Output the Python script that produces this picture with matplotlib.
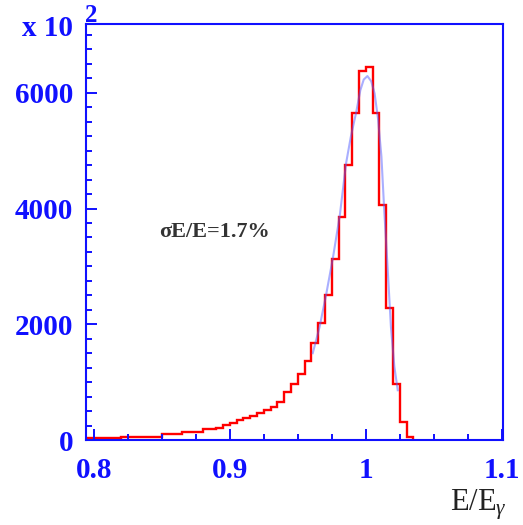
import matplotlib
matplotlib.use("Agg")
import matplotlib.pyplot as plt
from matplotlib.ticker import MultipleLocator, FixedLocator

# E/E_gamma histogram, 0.005 wide bins, contents in units of 10^2
bin_edges = [0.790, 0.795, 0.800, 0.805, 0.810, 0.815, 0.820, 0.825, 0.830, 0.835,
             0.840, 0.845, 0.850, 0.855, 0.860, 0.865, 0.870, 0.875, 0.880, 0.885,
             0.890, 0.895, 0.900, 0.905, 0.910, 0.915, 0.920, 0.925, 0.930, 0.935,
             0.940, 0.945, 0.950, 0.955, 0.960, 0.965, 0.970, 0.975, 0.980, 0.985,
             0.990, 0.995, 1.000, 1.005, 1.010, 1.015, 1.020, 1.025, 1.030, 1.035]
counts = [29, 29, 29, 29, 29, 29, 59, 59, 59, 59,
          59, 59, 100, 100, 100, 135, 135, 135, 187, 187,
          214, 261, 295, 340, 375, 415, 461, 518, 565, 665,
          830, 970, 1141, 1370, 1682, 2028, 2504, 3126, 3857, 4750,
          5653, 6373, 6450, 5653, 4059, 2274, 969, 306, 60]

# fitted curve, points
fit_x = [0.961, 0.966, 0.971, 0.976, 0.981, 0.9855, 0.989, 0.993, 0.996, 0.9985,
         1.0012, 1.004, 1.0065, 1.009, 1.0115, 1.0135, 1.016, 1.0185, 1.021, 1.0235]
fit_y = [1500, 1950, 2530, 3170, 3900, 4780, 5240, 5670, 6045, 6230,
         6290, 6200, 5990, 5550, 4900, 4000, 3000, 1950, 1270, 860]

blue = "#1010ff"
serif = "Liberation Serif"

fig = plt.figure(figsize=(5.23, 5.25), dpi=100)
ax = fig.add_axes([0.1644, 0.1619, 0.7974, 0.7924])

ax.stairs(counts, bin_edges, color="red", lw=1.7, baseline=0)
ax.plot(fit_x, fit_y, color="#5560ff", lw=1.5, alpha=0.5)

ax.set_xlim(0.7943, 1.1009)
ax.set_ylim(0, 7190)

ax.xaxis.set_major_locator(FixedLocator([0.8, 0.9, 1.0, 1.1]))
ax.set_xticklabels(["0.8", "0.9", "1", "1.1"])
ax.xaxis.set_minor_locator(MultipleLocator(0.025))
ax.yaxis.set_major_locator(FixedLocator([0, 2000, 4000, 6000]))
ax.yaxis.set_minor_locator(MultipleLocator(250))

for s in ax.spines.values():
    s.set_color(blue)
    s.set_linewidth(1.5)

ax.tick_params(which="both", direction="in", color=blue, width=1.4,
               top=False, right=False)
ax.tick_params(which="major", length=8)
ax.tick_params(which="minor", length=4)
ax.tick_params(axis="y", which="major", pad=9)
ax.tick_params(axis="x", which="major", pad=12)
for lab in ax.get_xticklabels() + ax.get_yticklabels():
    lab.set_fontfamily(serif)
    lab.set_fontweight("bold")
    lab.set_fontsize(21)
    lab.set_color(blue)

# exponent label
fig.text(73 / 523, 1 - 28 / 525, "x 10", ha="right", va="center",
         fontfamily=serif, fontweight="bold", fontsize=21, color=blue)
fig.text(91 / 523, 1 - 15 / 525, "2", ha="center", va="center",
         fontfamily=serif, fontweight="bold", fontsize=18, color=blue)

ax.text(0.8885, 3590, "\u03c3E/E=1.7%", ha="center", va="center",
        fontfamily=serif, fontweight="bold", fontsize=16, color="#333333")

plt.rcParams["mathtext.fontset"] = "custom"
plt.rcParams["mathtext.rm"] = serif
plt.rcParams["mathtext.it"] = serif + ":italic"
fig.text(507 / 523, 1 - 505 / 525, r"$\mathrm{E/E}_{\gamma}$", ha="right", va="center",
         fontsize=22, color="#222222")

fig.savefig("out.png", dpi=100)
